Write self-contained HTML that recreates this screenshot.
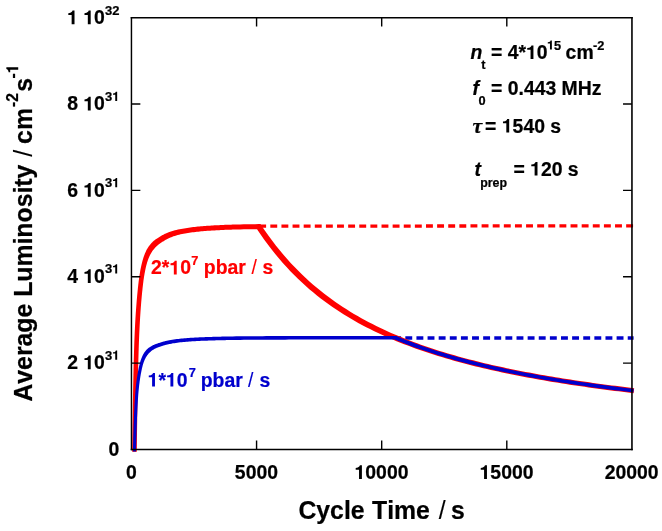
<!DOCTYPE html>
<html lang="en"><head><meta charset="utf-8"><title>Average Luminosity vs Cycle Time</title>
<style>
html,body{margin:0;padding:0;background:#fff;}
body{width:662px;height:531px;overflow:hidden;}
svg{display:block;will-change:transform;}
text{font-family:"Liberation Sans", sans-serif;font-weight:bold;fill:#000;font-kerning:none;stroke:#000;stroke-width:0.22px;stroke-linejoin:round;}
.tk{font-size:19.4px;}
.sup{font-size:13.0px;}
.an{font-size:19.4px;}
.ans{font-size:12.8px;}
.ttl{font-size:24.8px;}
.ttls{font-size:15.7px;}
.it{font-style:italic;}
</style></head><body>
<svg width="662" height="531" viewBox="0 0 662 531">
<rect x="0" y="0" width="662" height="531" fill="#fff"/>
<path d="M259.2 226.20 L633.6 225.80" stroke="#ff0000" stroke-width="3.3" stroke-dasharray="6.9 4.22" fill="none"/>
<path d="M394.2 337.98 H633.6" stroke="#0000cd" stroke-width="3.7" stroke-dasharray="6.9 4.22" fill="none"/>
<path d="M132.17 451.67 L132.20 449.27 L132.30 441.23 L132.40 433.60 L132.50 426.38 L132.60 419.51 L132.70 412.99 L132.80 406.78 L132.90 400.87 L133.00 395.25 L133.10 389.90 L133.20 384.80 L133.30 379.94 L133.40 375.32 L133.50 370.91 L133.60 366.73 L133.70 362.75 L133.80 358.96 L133.90 355.37 L134.00 351.97 L134.10 348.75 L134.20 345.70 L134.30 342.83 L134.40 340.12 L134.50 337.58 L134.60 335.18 L134.70 332.88 L134.80 330.68 L134.90 328.57 L135.00 326.55 L135.10 324.61 L135.20 322.75 L135.30 320.95 L135.40 319.22 L135.50 317.55 L135.60 315.94 L135.70 314.37 L135.80 312.86 L135.90 311.40 L136.00 309.97 L136.10 308.59 L136.20 307.24 L136.30 305.93 L136.40 304.65 L136.49 303.39 L136.59 302.17 L136.69 300.97 L136.79 299.79 L136.89 298.64 L136.99 297.51 L137.09 296.39 L137.19 295.30 L137.29 294.23 L137.39 293.18 L137.49 292.15 L137.59 291.14 L137.69 290.15 L137.79 289.18 L137.89 288.23 L137.99 287.30 L138.09 286.38 L138.19 285.49 L138.29 284.61 L138.39 283.76 L138.49 282.92 L138.59 282.09 L138.68 281.29 L138.78 280.51 L138.88 279.74 L138.98 278.99 L139.08 278.25 L139.18 277.54 L139.28 276.84 L139.38 276.16 L139.47 275.48 L139.85 273.14 L140.22 271.02 L140.59 269.05 L140.96 267.21 L141.33 265.50 L141.69 263.90 L142.06 262.40 L142.43 261.00 L142.80 259.69 L143.17 258.46 L143.54 257.30 L143.91 256.22 L144.28 255.20 L144.65 254.24 L145.02 253.32 L145.40 252.45 L145.77 251.63 L146.15 250.84 L146.53 250.09 L146.92 249.37 L147.30 248.69 L147.69 248.03 L148.08 247.41 L148.48 246.80 L148.87 246.22 L149.27 245.67 L149.67 245.14 L150.08 244.63 L150.48 244.14 L150.89 243.67 L151.30 243.22 L151.70 242.79 L152.11 242.38 L152.52 241.98 L152.93 241.59 L153.34 241.22 L153.76 240.86 L154.18 240.51 L154.60 240.17 L155.02 239.85 L155.43 239.55 L155.84 239.25 L156.25 238.97 L156.66 238.69 L157.06 238.43 L157.46 238.17 L157.85 237.91 L158.25 237.66 L158.63 237.42 L159.02 237.18 L159.40 236.94 L159.79 236.70 L160.17 236.47 L160.56 236.23 L160.95 236.00 L161.34 235.77 L161.74 235.54 L162.13 235.32 L162.53 235.10 L162.93 234.88 L163.33 234.67 L163.73 234.46 L164.13 234.26 L164.53 234.06 L164.94 233.87 L165.35 233.68 L165.75 233.50 L166.16 233.32 L166.57 233.15 L166.98 232.98 L167.38 232.82 L167.78 232.67 L168.17 232.52 L168.60 232.37 L170.14 231.80 L171.72 231.28 L173.30 230.80 L174.87 230.37 L176.43 229.98 L177.98 229.61 L179.52 229.28 L181.06 228.97 L182.60 228.68 L184.13 228.41 L185.66 228.16 L187.19 227.92 L188.71 227.70 L190.23 227.49 L191.75 227.29 L193.27 227.11 L194.79 226.93 L196.31 226.77 L197.82 226.61 L199.34 226.46 L200.85 226.33 L202.37 226.20 L203.88 226.07 L205.39 225.96 L206.90 225.85 L208.41 225.74 L209.92 225.64 L211.43 225.55 L212.93 225.46 L214.44 225.37 L215.95 225.29 L217.46 225.21 L218.96 225.13 L220.47 225.06 L221.98 224.99 L223.48 224.93 L224.99 224.87 L226.50 224.81 L228.00 224.76 L229.51 224.71 L231.01 224.66 L232.52 224.62 L236.28 224.51 L240.04 224.42 L243.79 224.34 L247.55 224.27 L251.31 224.21 L255.06 224.15 L258.69 224.11 L258.75 229.11 L255.13 229.15 L251.39 229.21 L247.64 229.27 L243.90 229.34 L240.15 229.42 L236.41 229.52 L232.66 229.62 L231.17 229.66 L229.67 229.71 L228.18 229.76 L226.68 229.81 L225.19 229.87 L223.69 229.93 L222.20 230.00 L220.70 230.06 L219.21 230.14 L217.71 230.21 L216.22 230.29 L214.73 230.38 L213.23 230.46 L211.74 230.55 L210.25 230.65 L208.75 230.75 L207.26 230.86 L205.77 230.97 L204.28 231.08 L202.79 231.21 L201.30 231.34 L199.82 231.48 L198.33 231.63 L196.85 231.78 L195.36 231.95 L193.88 232.13 L192.40 232.32 L190.91 232.51 L189.44 232.73 L187.96 232.95 L186.48 233.19 L185.01 233.45 L183.54 233.72 L182.08 234.01 L180.62 234.33 L179.16 234.67 L177.71 235.04 L176.27 235.44 L174.84 235.88 L173.41 236.36 L171.99 236.88 L170.53 237.45 L170.21 237.59 L169.85 237.74 L169.50 237.90 L169.15 238.05 L168.80 238.21 L168.46 238.38 L168.12 238.55 L167.78 238.72 L167.44 238.90 L167.09 239.09 L166.75 239.27 L166.40 239.47 L166.05 239.66 L165.70 239.86 L165.35 240.07 L164.99 240.28 L164.64 240.49 L164.28 240.71 L163.92 240.93 L163.56 241.15 L163.20 241.38 L162.84 241.60 L162.47 241.84 L162.11 242.07 L161.74 242.30 L161.38 242.54 L161.02 242.78 L160.66 243.01 L160.31 243.25 L159.96 243.50 L159.62 243.74 L159.28 243.99 L158.94 244.25 L158.60 244.51 L158.27 244.78 L157.94 245.05 L157.61 245.34 L157.27 245.63 L156.93 245.94 L156.59 246.26 L156.25 246.58 L155.91 246.92 L155.57 247.27 L155.23 247.62 L154.89 248.00 L154.54 248.38 L154.19 248.78 L153.84 249.20 L153.49 249.64 L153.14 250.10 L152.78 250.58 L152.42 251.09 L152.06 251.62 L151.70 252.18 L151.33 252.77 L150.96 253.40 L150.59 254.06 L150.22 254.76 L149.84 255.50 L149.46 256.29 L149.09 257.14 L148.71 258.04 L148.33 259.00 L147.94 260.03 L147.56 261.15 L147.18 262.37 L146.80 263.67 L146.42 265.08 L146.03 266.60 L145.65 268.23 L145.27 269.99 L144.89 271.89 L144.51 273.94 L144.13 276.22 L144.03 276.86 L143.93 277.52 L143.83 278.20 L143.73 278.90 L143.63 279.62 L143.52 280.35 L143.42 281.11 L143.32 281.88 L143.22 282.67 L143.12 283.48 L143.02 284.31 L142.92 285.15 L142.82 286.02 L142.72 286.90 L142.62 287.80 L142.52 288.72 L142.42 289.67 L142.32 290.63 L142.22 291.61 L142.11 292.61 L142.01 293.63 L141.91 294.67 L141.81 295.73 L141.71 296.81 L141.61 297.92 L141.51 299.04 L141.41 300.19 L141.31 301.36 L141.21 302.55 L141.11 303.77 L141.01 305.01 L140.91 306.28 L140.81 307.59 L140.71 308.93 L140.61 310.30 L140.51 311.72 L140.41 313.17 L140.31 314.68 L140.21 316.23 L140.11 317.83 L140.01 319.49 L139.91 321.21 L139.81 323.00 L139.71 324.86 L139.61 326.79 L139.51 328.80 L139.40 330.89 L139.30 333.08 L139.20 335.37 L139.10 337.77 L139.00 340.30 L138.90 343.00 L138.80 345.86 L138.70 348.90 L138.60 352.11 L138.50 355.51 L138.40 359.09 L138.30 362.86 L138.20 366.84 L138.10 371.02 L138.00 375.42 L137.90 380.04 L137.80 384.89 L137.70 389.99 L137.60 395.34 L137.50 400.95 L137.40 406.86 L137.30 413.06 L137.20 419.58 L137.10 426.44 L137.00 433.67 L136.90 441.28 L136.80 449.33 L136.77 451.73Z M261.07 225.02 L264.81 230.55 L268.55 235.81 L272.28 240.85 L276.01 245.68 L279.73 250.32 L283.45 254.77 L287.17 259.03 L290.89 263.13 L294.61 267.07 L298.32 270.86 L302.04 274.51 L305.75 278.02 L309.46 281.40 L313.17 284.66 L316.88 287.80 L320.59 290.83 L324.29 293.75 L328.00 296.58 L331.71 299.30 L335.42 301.94 L339.13 304.49 L342.84 306.95 L346.55 309.34 L350.26 311.65 L353.97 313.89 L357.68 316.06 L361.39 318.16 L365.11 320.20 L368.82 322.18 L372.54 324.09 L376.25 325.96 L379.97 327.77 L383.69 329.52 L387.41 331.23 L391.13 332.89 L394.85 334.51 L398.57 336.08 L402.30 337.61 L406.02 339.09 L409.75 340.54 L413.48 341.95 L417.20 343.33 L420.93 344.67 L424.66 345.97 L428.39 347.25 L432.12 348.49 L435.85 349.70 L439.58 350.89 L443.32 352.04 L447.05 353.17 L450.78 354.27 L454.52 355.34 L458.25 356.40 L461.99 357.42 L465.72 358.43 L469.46 359.41 L473.20 360.37 L476.93 361.31 L480.67 362.23 L484.41 363.13 L488.15 364.02 L491.89 364.88 L495.63 365.73 L499.37 366.55 L503.11 367.37 L506.85 368.16 L510.59 368.94 L514.33 369.71 L518.07 370.46 L521.81 371.19 L525.56 371.91 L529.30 372.62 L533.04 373.31 L536.78 374.00 L540.53 374.67 L544.27 375.32 L548.01 375.97 L551.76 376.60 L555.50 377.22 L559.25 377.84 L562.99 378.44 L566.74 379.03 L570.48 379.61 L574.23 380.18 L577.97 380.74 L581.72 381.29 L585.46 381.83 L589.21 382.37 L592.95 382.89 L596.70 383.41 L600.44 383.91 L604.19 384.41 L607.94 384.91 L611.68 385.39 L615.43 385.87 L619.18 386.34 L622.92 386.80 L626.67 387.26 L630.42 387.70 L632.30 387.93 L634.18 388.15 L633.59 393.17 L631.70 392.95 L629.82 392.72 L626.07 392.28 L622.31 391.82 L618.55 391.36 L614.80 390.89 L611.04 390.41 L607.28 389.93 L603.53 389.44 L599.77 388.94 L596.01 388.43 L592.26 387.92 L588.50 387.39 L584.74 386.86 L580.98 386.32 L577.23 385.77 L573.47 385.21 L569.71 384.64 L565.95 384.06 L562.19 383.47 L558.43 382.87 L554.68 382.26 L550.92 381.64 L547.16 381.00 L543.40 380.36 L539.64 379.70 L535.88 379.04 L532.12 378.36 L528.36 377.66 L524.60 376.96 L520.84 376.24 L517.08 375.50 L513.31 374.75 L509.55 373.99 L505.79 373.21 L502.03 372.42 L498.26 371.61 L494.50 370.78 L490.74 369.94 L486.97 369.07 L483.21 368.19 L479.45 367.30 L475.68 366.38 L471.91 365.44 L468.15 364.48 L464.38 363.50 L460.62 362.49 L456.85 361.47 L453.08 360.42 L449.31 359.34 L445.54 358.24 L441.77 357.12 L438.00 355.96 L434.23 354.78 L430.46 353.57 L426.69 352.33 L422.91 351.06 L419.14 349.75 L415.36 348.41 L411.59 347.03 L407.81 345.62 L404.03 344.17 L400.26 342.68 L396.48 341.15 L392.70 339.58 L388.92 337.96 L385.13 336.29 L381.35 334.58 L377.57 332.81 L373.78 330.99 L370.00 329.12 L366.21 327.19 L362.42 325.20 L358.63 323.14 L354.84 321.02 L351.05 318.83 L347.26 316.57 L343.46 314.23 L339.67 311.82 L335.88 309.32 L332.08 306.73 L328.29 304.05 L324.49 301.28 L320.70 298.40 L316.90 295.43 L313.11 292.34 L309.31 289.13 L305.52 285.80 L301.73 282.35 L297.94 278.76 L294.15 275.03 L290.36 271.15 L286.57 267.12 L282.79 262.92 L279.01 258.55 L275.23 254.00 L271.45 249.25 L267.67 244.31 L263.90 239.16 L260.13 233.78 L256.37 228.19Z M258.72 226.61 L258.69 224.11 L260.44 224.08 L261.07 225.02Z M258.72 226.61 L258.75 229.11 L256.37 228.19Z" fill="#ff0000" stroke="none"/>
<path d="M132.90 451.46 L132.95 449.26 L133.05 445.24 L133.15 441.43 L133.25 437.81 L133.35 434.38 L133.45 431.11 L133.55 428.01 L133.65 425.05 L133.75 422.24 L133.85 419.56 L133.95 417.01 L134.05 414.58 L134.15 412.26 L134.25 410.06 L134.35 407.97 L134.45 405.97 L134.55 404.08 L134.65 402.28 L134.75 400.58 L134.85 398.96 L134.95 397.44 L135.05 395.99 L135.15 394.64 L135.25 393.36 L135.34 392.15 L135.44 391.00 L135.54 389.90 L135.64 388.84 L135.74 387.83 L135.84 386.85 L135.94 385.92 L136.04 385.01 L136.14 384.14 L136.24 383.30 L136.34 382.49 L136.44 381.71 L136.53 380.95 L136.63 380.21 L136.73 379.49 L136.83 378.80 L136.93 378.12 L137.03 377.46 L137.13 376.81 L137.23 376.19 L137.33 375.57 L137.43 374.97 L137.52 374.37 L137.62 373.79 L137.72 373.22 L137.82 372.66 L137.92 372.11 L138.02 371.58 L138.12 371.05 L138.22 370.53 L138.32 370.02 L138.41 369.52 L138.51 369.03 L138.61 368.55 L138.71 368.08 L138.81 367.62 L138.91 367.16 L139.01 366.72 L139.10 366.29 L139.20 365.86 L139.30 365.44 L139.40 365.04 L139.50 364.64 L139.59 364.24 L139.69 363.86 L139.79 363.49 L139.89 363.12 L139.99 362.76 L140.08 362.41 L140.18 362.05 L140.55 360.86 L140.91 359.77 L141.28 358.75 L141.65 357.80 L142.02 356.90 L142.39 356.07 L142.77 355.28 L143.15 354.54 L143.53 353.85 L143.92 353.19 L144.31 352.57 L144.70 352.00 L145.10 351.46 L145.50 350.95 L145.90 350.47 L146.31 350.02 L146.72 349.60 L147.13 349.19 L147.54 348.81 L147.96 348.45 L148.37 348.11 L148.78 347.79 L149.20 347.48 L149.61 347.18 L150.03 346.90 L150.44 346.64 L150.85 346.39 L151.26 346.15 L151.67 345.92 L152.08 345.70 L152.49 345.49 L152.90 345.29 L153.30 345.09 L153.70 344.91 L154.10 344.73 L154.50 344.55 L154.91 344.39 L155.31 344.23 L155.71 344.07 L156.11 343.92 L156.51 343.78 L156.90 343.64 L157.29 343.51 L157.68 343.38 L158.07 343.25 L158.46 343.12 L158.84 343.00 L159.23 342.88 L159.61 342.76 L159.99 342.64 L160.37 342.52 L160.75 342.41 L161.13 342.29 L161.51 342.18 L161.89 342.06 L162.27 341.95 L162.65 341.84 L163.04 341.73 L163.42 341.62 L163.81 341.52 L164.19 341.41 L164.58 341.31 L164.96 341.22 L165.35 341.12 L165.74 341.02 L166.13 340.93 L166.51 340.84 L166.90 340.76 L167.29 340.68 L167.68 340.59 L168.06 340.52 L168.44 340.44 L168.83 340.36 L169.22 340.29 L170.74 340.01 L172.27 339.75 L173.79 339.51 L175.32 339.29 L176.84 339.10 L178.36 338.92 L179.87 338.75 L181.39 338.59 L182.90 338.45 L184.41 338.31 L185.92 338.18 L187.43 338.06 L188.94 337.95 L190.45 337.85 L191.96 337.75 L193.47 337.66 L194.97 337.57 L196.48 337.49 L197.99 337.41 L199.49 337.33 L201.00 337.26 L202.50 337.20 L204.01 337.14 L205.51 337.08 L207.02 337.03 L208.52 336.97 L210.02 336.92 L211.53 336.88 L213.03 336.83 L214.53 336.79 L216.03 336.74 L217.54 336.70 L219.04 336.67 L220.54 336.63 L222.05 336.60 L223.55 336.57 L225.05 336.53 L226.55 336.51 L228.06 336.48 L229.56 336.45 L231.06 336.43 L232.57 336.41 L236.32 336.36 L240.07 336.31 L243.83 336.27 L247.58 336.24 L251.33 336.20 L255.09 336.18 L258.84 336.15 L262.59 336.13 L266.34 336.11 L270.10 336.09 L273.85 336.07 L277.60 336.06 L281.35 336.04 L285.10 336.03 L288.86 336.01 L292.61 336.00 L296.36 335.99 L300.11 335.98 L303.86 335.97 L307.62 335.96 L311.37 335.95 L315.12 335.95 L318.87 335.94 L322.62 335.93 L326.38 335.93 L330.13 335.93 L333.88 335.92 L337.63 335.92 L341.38 335.92 L345.13 335.91 L348.89 335.91 L352.64 335.91 L356.39 335.90 L360.14 335.90 L363.89 335.90 L367.64 335.90 L371.39 335.90 L375.15 335.89 L378.90 335.89 L382.65 335.89 L386.40 335.89 L390.15 335.89 L393.90 335.89 L395.30 335.89 L395.30 339.49 L393.91 339.49 L390.15 339.49 L386.40 339.49 L382.65 339.49 L378.90 339.49 L375.15 339.49 L371.40 339.50 L367.65 339.50 L363.89 339.50 L360.14 339.50 L356.39 339.50 L352.64 339.51 L348.89 339.51 L345.14 339.51 L341.39 339.52 L337.63 339.52 L333.88 339.52 L330.13 339.53 L326.38 339.53 L322.63 339.53 L318.88 339.54 L315.13 339.55 L311.38 339.55 L307.62 339.56 L303.87 339.57 L300.12 339.58 L296.37 339.59 L292.62 339.60 L288.87 339.61 L285.12 339.63 L281.37 339.64 L277.62 339.66 L273.87 339.67 L270.11 339.69 L266.36 339.71 L262.61 339.73 L258.86 339.75 L255.11 339.78 L251.36 339.80 L247.61 339.84 L243.86 339.87 L240.11 339.91 L236.36 339.96 L232.62 340.01 L231.12 340.03 L229.62 340.05 L228.12 340.08 L226.62 340.11 L225.12 340.14 L223.62 340.17 L222.13 340.20 L220.63 340.23 L219.13 340.27 L217.63 340.31 L216.13 340.35 L214.63 340.39 L213.14 340.43 L211.64 340.48 L210.14 340.52 L208.64 340.57 L207.14 340.63 L205.65 340.68 L204.15 340.74 L202.65 340.80 L201.16 340.87 L199.66 340.94 L198.17 341.01 L196.67 341.09 L195.18 341.17 L193.68 341.26 L192.19 341.35 L190.70 341.45 L189.20 341.56 L187.71 341.67 L186.22 341.79 L184.73 341.92 L183.24 342.05 L181.75 342.20 L180.27 342.36 L178.78 342.53 L177.30 342.71 L175.82 342.91 L174.34 343.13 L172.87 343.37 L171.39 343.63 L169.91 343.92 L169.55 343.99 L169.19 344.07 L168.82 344.15 L168.45 344.22 L168.09 344.31 L167.73 344.39 L167.37 344.48 L167.00 344.57 L166.64 344.66 L166.28 344.76 L165.91 344.85 L165.55 344.95 L165.18 345.05 L164.82 345.16 L164.45 345.26 L164.09 345.37 L163.72 345.48 L163.35 345.59 L162.99 345.70 L162.62 345.82 L162.25 345.93 L161.88 346.05 L161.51 346.16 L161.14 346.28 L160.77 346.40 L160.40 346.52 L160.03 346.64 L159.66 346.77 L159.30 346.89 L158.94 347.02 L158.58 347.15 L158.22 347.28 L157.86 347.42 L157.51 347.56 L157.16 347.70 L156.81 347.85 L156.46 348.01 L156.12 348.17 L155.76 348.34 L155.42 348.51 L155.07 348.69 L154.72 348.87 L154.38 349.06 L154.03 349.25 L153.69 349.45 L153.35 349.66 L153.01 349.87 L152.68 350.10 L152.34 350.33 L152.00 350.57 L151.67 350.82 L151.33 351.08 L150.99 351.35 L150.66 351.63 L150.32 351.92 L149.98 352.23 L149.64 352.55 L149.30 352.88 L148.96 353.24 L148.61 353.61 L148.26 354.01 L147.91 354.43 L147.55 354.88 L147.19 355.36 L146.83 355.88 L146.46 356.44 L146.09 357.06 L145.71 357.72 L145.34 358.44 L144.96 359.23 L144.58 360.07 L144.20 360.99 L143.81 361.98 L143.43 363.10 L143.32 363.39 L143.22 363.71 L143.12 364.05 L143.02 364.39 L142.92 364.74 L142.81 365.10 L142.71 365.47 L142.61 365.85 L142.51 366.24 L142.41 366.64 L142.30 367.05 L142.20 367.46 L142.10 367.89 L142.00 368.33 L141.90 368.77 L141.80 369.23 L141.69 369.69 L141.59 370.17 L141.49 370.66 L141.39 371.15 L141.29 371.66 L141.19 372.18 L141.09 372.70 L140.98 373.24 L140.88 373.79 L140.78 374.35 L140.68 374.92 L140.58 375.50 L140.48 376.09 L140.38 376.70 L140.28 377.31 L140.18 377.95 L140.08 378.59 L139.97 379.26 L139.87 379.94 L139.77 380.65 L139.67 381.37 L139.57 382.12 L139.47 382.89 L139.37 383.69 L139.27 384.51 L139.17 385.37 L139.06 386.26 L138.96 387.18 L138.86 388.14 L138.76 389.14 L138.66 390.19 L138.56 391.28 L138.46 392.42 L138.36 393.61 L138.26 394.87 L138.16 396.22 L138.06 397.65 L137.96 399.16 L137.86 400.76 L137.76 402.46 L137.65 404.25 L137.55 406.13 L137.45 408.12 L137.35 410.21 L137.25 412.40 L137.15 414.71 L137.05 417.13 L136.95 419.68 L136.85 422.35 L136.75 425.16 L136.65 428.11 L136.55 431.21 L136.45 434.47 L136.35 437.90 L136.25 441.51 L136.15 445.32 L136.05 449.34 L136.00 451.54Z M396.05 335.87 L399.79 337.43 L403.52 338.94 L407.26 340.41 L410.99 341.84 L414.72 343.24 L418.46 344.60 L422.19 345.92 L425.93 347.22 L429.67 348.48 L433.40 349.71 L437.14 350.91 L440.88 352.08 L444.62 353.22 L448.36 354.34 L452.09 355.43 L455.83 356.49 L459.57 357.53 L463.31 358.55 L467.05 359.55 L470.80 360.52 L474.54 361.47 L478.28 362.40 L482.02 363.32 L485.76 364.21 L489.51 365.08 L493.25 365.94 L496.99 366.78 L500.73 367.60 L504.48 368.40 L508.22 369.19 L511.97 369.96 L515.71 370.72 L519.45 371.47 L523.20 372.20 L526.94 372.91 L530.69 373.61 L534.43 374.30 L538.18 374.98 L541.92 375.64 L545.67 376.29 L549.42 376.93 L553.16 377.56 L556.91 378.18 L560.66 378.79 L564.40 379.38 L568.15 379.97 L571.89 380.55 L575.64 381.11 L579.39 381.67 L583.14 382.22 L586.88 382.76 L590.63 383.29 L594.38 383.81 L598.12 384.32 L601.87 384.82 L605.62 385.32 L609.37 385.81 L613.12 386.29 L616.86 386.76 L620.61 387.23 L624.36 387.69 L628.11 388.14 L631.86 388.59 L632.21 388.63 L633.80 388.82 L633.38 392.43 L631.79 392.24 L631.43 392.20 L627.68 391.75 L623.92 391.30 L620.17 390.84 L616.41 390.38 L612.66 389.90 L608.90 389.42 L605.15 388.93 L601.39 388.44 L597.64 387.93 L593.88 387.42 L590.12 386.90 L586.37 386.37 L582.61 385.83 L578.86 385.29 L575.10 384.73 L571.34 384.16 L567.59 383.59 L563.83 383.00 L560.07 382.41 L556.32 381.80 L552.56 381.18 L548.80 380.56 L545.05 379.92 L541.29 379.26 L537.53 378.60 L533.77 377.93 L530.02 377.24 L526.26 376.54 L522.50 375.82 L518.74 375.09 L514.98 374.35 L511.23 373.59 L507.47 372.82 L503.71 372.03 L499.95 371.23 L496.19 370.41 L492.43 369.57 L488.67 368.71 L484.91 367.84 L481.15 366.95 L477.39 366.04 L473.62 365.11 L469.86 364.16 L466.10 363.18 L462.34 362.19 L458.58 361.17 L454.81 360.13 L451.05 359.07 L447.28 357.98 L443.52 356.86 L439.76 355.72 L435.99 354.55 L432.22 353.35 L428.46 352.12 L424.69 350.86 L420.92 349.56 L417.16 348.24 L413.39 346.88 L409.62 345.48 L405.85 344.04 L402.08 342.57 L398.31 341.06 L394.55 339.50Z M395.30 337.69 L395.30 335.89 L396.08 335.89 L396.05 335.87Z M395.30 337.69 L395.30 339.49 L394.55 339.50Z" fill="#0000cd" stroke="none"/>
<g stroke="#000" stroke-width="1.4" fill="none" stroke-linecap="butt">
<path d="M131.45 16.93 V450.20" stroke-width="1.45"/>
<path d="M631.95 16.93 V450.20" stroke-width="1.6"/>
<path d="M130.73 17.65 H632.75" stroke-width="1.45"/>
<path d="M130.73 449.50 H632.75" stroke-width="1.4"/>
<path d="M256.57 449.50 v-8.90 M256.57 17.65 v8.90 M381.69 449.50 v-8.90 M381.69 17.65 v8.90 M506.80 449.50 v-8.90 M506.80 17.65 v8.90 M131.45 363.13 h8.90 M631.92 363.13 h-8.90 M131.45 276.76 h8.90 M631.92 276.76 h-8.90 M131.45 190.39 h8.90 M631.92 190.39 h-8.90 M131.45 104.02 h8.90 M631.92 104.02 h-8.90"/>
</g>
<path d="M0.232 0 L0.232 0.478 L0.060 0.478 L0.060 0.570 Q0.185 0.578 0.243 0.640 Q0.268 0.670 0.276 0.706 L0.380 0.706 L0.380 0 Z" transform="translate(67.14 24.20) scale(19.400 -19.400)" fill="#000"/>
<path d="M0.232 0 L0.232 0.478 L0.060 0.478 L0.060 0.570 Q0.185 0.578 0.243 0.640 Q0.268 0.670 0.276 0.706 L0.380 0.706 L0.380 0 Z" transform="translate(83.32 24.20) scale(19.400 -19.400)" fill="#000"/>
<text class="tk" x="94.11" y="24.20">0</text>
<text class="sup" x="105.00" y="14.60">32</text>
<text class="tk" x="67.14" y="110.48">8</text>
<path d="M0.232 0 L0.232 0.478 L0.060 0.478 L0.060 0.570 Q0.185 0.578 0.243 0.640 Q0.268 0.670 0.276 0.706 L0.380 0.706 L0.380 0 Z" transform="translate(83.32 110.48) scale(19.400 -19.400)" fill="#000"/>
<text class="tk" x="94.11" y="110.48">0</text>
<text class="sup" x="105.00" y="100.88">3</text>
<path d="M0.232 0 L0.232 0.478 L0.060 0.478 L0.060 0.570 Q0.185 0.578 0.243 0.640 Q0.268 0.670 0.276 0.706 L0.380 0.706 L0.380 0 Z" transform="translate(112.23 100.88) scale(13.000 -13.000)" fill="#000"/>
<text class="tk" x="67.14" y="196.76">6</text>
<path d="M0.232 0 L0.232 0.478 L0.060 0.478 L0.060 0.570 Q0.185 0.578 0.243 0.640 Q0.268 0.670 0.276 0.706 L0.380 0.706 L0.380 0 Z" transform="translate(83.32 196.76) scale(19.400 -19.400)" fill="#000"/>
<text class="tk" x="94.11" y="196.76">0</text>
<text class="sup" x="105.00" y="187.16">3</text>
<path d="M0.232 0 L0.232 0.478 L0.060 0.478 L0.060 0.570 Q0.185 0.578 0.243 0.640 Q0.268 0.670 0.276 0.706 L0.380 0.706 L0.380 0 Z" transform="translate(112.23 187.16) scale(13.000 -13.000)" fill="#000"/>
<text class="tk" x="67.14" y="283.04">4</text>
<path d="M0.232 0 L0.232 0.478 L0.060 0.478 L0.060 0.570 Q0.185 0.578 0.243 0.640 Q0.268 0.670 0.276 0.706 L0.380 0.706 L0.380 0 Z" transform="translate(83.32 283.04) scale(19.400 -19.400)" fill="#000"/>
<text class="tk" x="94.11" y="283.04">0</text>
<text class="sup" x="105.00" y="273.44">3</text>
<path d="M0.232 0 L0.232 0.478 L0.060 0.478 L0.060 0.570 Q0.185 0.578 0.243 0.640 Q0.268 0.670 0.276 0.706 L0.380 0.706 L0.380 0 Z" transform="translate(112.23 273.44) scale(13.000 -13.000)" fill="#000"/>
<text class="tk" x="67.14" y="369.32">2</text>
<path d="M0.232 0 L0.232 0.478 L0.060 0.478 L0.060 0.570 Q0.185 0.578 0.243 0.640 Q0.268 0.670 0.276 0.706 L0.380 0.706 L0.380 0 Z" transform="translate(83.32 369.32) scale(19.400 -19.400)" fill="#000"/>
<text class="tk" x="94.11" y="369.32">0</text>
<text class="sup" x="105.00" y="359.72">3</text>
<path d="M0.232 0 L0.232 0.478 L0.060 0.478 L0.060 0.570 Q0.185 0.578 0.243 0.640 Q0.268 0.670 0.276 0.706 L0.380 0.706 L0.380 0 Z" transform="translate(112.23 359.72) scale(13.000 -13.000)" fill="#000"/>
<text class="tk" x="108.41" y="455.90">0</text>
<text class="tk" x="126.01" y="479.00">0</text>
<text class="tk" x="234.87" y="479.00">5000</text>
<path d="M0.232 0 L0.232 0.478 L0.060 0.478 L0.060 0.570 Q0.185 0.578 0.243 0.640 Q0.268 0.670 0.276 0.706 L0.380 0.706 L0.380 0 Z" transform="translate(354.53 479.00) scale(19.400 -19.400)" fill="#000"/>
<text class="tk" x="365.32" y="479.00">0000</text>
<path d="M0.232 0 L0.232 0.478 L0.060 0.478 L0.060 0.570 Q0.185 0.578 0.243 0.640 Q0.268 0.670 0.276 0.706 L0.380 0.706 L0.380 0 Z" transform="translate(479.58 479.00) scale(19.400 -19.400)" fill="#000"/>
<text class="tk" x="490.37" y="479.00">5000</text>
<text class="tk" x="604.63" y="479.00">20000</text>
<g transform="translate(299.4 518.6) scale(1 1.04)">
<text class="ttl" x="-1.0" y="0">Cycle</text>
<text class="ttl" x="72.6" y="0">Time</text>
<text class="ttl" x="139.3" y="0" style="font-weight:normal;stroke-width:0.1px">/</text>
<text class="ttl" x="151.7" y="0">s</text>
</g>
<g transform="translate(31.7 0) rotate(-90) scale(1 1.07)">
<text class="ttl" x="-401.6" y="0">Average Luminosity</text>
<text class="ttl" x="-156.7" y="0" style="font-weight:normal;stroke-width:0.1px">/</text>
<text class="ttl" x="-143.9" y="0">cm</text>
<text class="ttls" x="-107.0" y="-12.6">-2</text>
<text class="ttl" x="-91.8" y="0">s</text>
<text class="ttls" x="-78.50" y="-12.60">-</text>
<path d="M0.232 0 L0.232 0.478 L0.060 0.478 L0.060 0.570 Q0.185 0.578 0.243 0.640 Q0.268 0.670 0.276 0.706 L0.380 0.706 L0.380 0 Z" transform="translate(-73.27 -12.60) scale(15.700 -15.700)" fill="#000"/>
</g>
<text class="an" x="470.5" y="59.1"><tspan class="it">n</tspan></text>
<text class="ans" x="481.2" y="69.3">t</text>
<text class="an" x="491.00" y="59.10">= 4*</text>
<path d="M0.232 0 L0.232 0.478 L0.060 0.478 L0.060 0.570 Q0.185 0.578 0.243 0.640 Q0.268 0.670 0.276 0.706 L0.380 0.706 L0.380 0 Z" transform="translate(526.06 59.10) scale(19.400 -19.400)" fill="#000"/>
<text class="an" x="536.85" y="59.10">0</text>
<path d="M0.232 0 L0.232 0.478 L0.060 0.478 L0.060 0.570 Q0.185 0.578 0.243 0.640 Q0.268 0.670 0.276 0.706 L0.380 0.706 L0.380 0 Z" transform="translate(547.00 49.60) scale(12.800 -12.800)" fill="#000"/>
<text class="ans" x="554.12" y="49.60">5</text>
<text class="an" x="565.6" y="59.1">cm</text>
<text class="ans" x="593.0" y="49.6">-2</text>
<text class="an" x="472.6" y="94.8"><tspan class="it">f</tspan></text>
<text class="ans" x="478.6" y="105.0">0</text>
<text class="an" x="491.0" y="94.8">= 0.443 MHz</text>
<text x="472.4" y="133.3" style="font-family:'Liberation Serif',serif;font-style:italic;font-weight:bold;font-size:22px">&#964;</text>
<text class="an" x="485.10" y="132.60">=</text>
<path d="M0.232 0 L0.232 0.478 L0.060 0.478 L0.060 0.570 Q0.185 0.578 0.243 0.640 Q0.268 0.670 0.276 0.706 L0.380 0.706 L0.380 0 Z" transform="translate(501.82 132.60) scale(19.400 -19.400)" fill="#000"/>
<text class="an" x="512.61" y="132.60">540 s</text>
<text class="an" x="474.4" y="175.6"><tspan class="it">t</tspan></text>
<text class="ans" x="480.2" y="186.5" style="font-size:12.4px">prep</text>
<text class="an" x="513.40" y="175.60">=</text>
<path d="M0.232 0 L0.232 0.478 L0.060 0.478 L0.060 0.570 Q0.185 0.578 0.243 0.640 Q0.268 0.670 0.276 0.706 L0.380 0.706 L0.380 0 Z" transform="translate(530.12 175.60) scale(19.400 -19.400)" fill="#000"/>
<text class="an" x="540.91" y="175.60">20 s</text>
<text class="an" x="151.00" y="274.40" style="fill:#ff0000;stroke:#ff0000;">2*</text>
<path d="M0.232 0 L0.232 0.478 L0.060 0.478 L0.060 0.570 Q0.185 0.578 0.243 0.640 Q0.268 0.670 0.276 0.706 L0.380 0.706 L0.380 0 Z" transform="translate(169.34 274.40) scale(19.400 -19.400)" fill="#ff0000"/>
<text class="an" x="180.13" y="274.40" style="fill:#ff0000;stroke:#ff0000;">0</text>
<text class="ans" x="191.30" y="264.60" style="fill:#ff0000;stroke:#ff0000;">7</text>
<text class="an" x="203.80" y="274.40" style="fill:#ff0000;stroke:#ff0000;">pbar</text>
<text class="an" x="251.4" y="274.4" style="font-weight:normal;fill:#ff0000;stroke:#ff0000;stroke-width:0.1px">/</text>
<text class="an" x="262.60" y="274.40" style="fill:#ff0000;stroke:#ff0000;">s</text>
<path d="M0.232 0 L0.232 0.478 L0.060 0.478 L0.060 0.570 Q0.185 0.578 0.243 0.640 Q0.268 0.670 0.276 0.706 L0.380 0.706 L0.380 0 Z" transform="translate(147.60 386.60) scale(19.400 -19.400)" fill="#0000cd"/>
<text class="an" x="158.39" y="386.60" style="fill:#0000cd;stroke:#0000cd;">*</text>
<path d="M0.232 0 L0.232 0.478 L0.060 0.478 L0.060 0.570 Q0.185 0.578 0.243 0.640 Q0.268 0.670 0.276 0.706 L0.380 0.706 L0.380 0 Z" transform="translate(165.94 386.60) scale(19.400 -19.400)" fill="#0000cd"/>
<text class="an" x="176.73" y="386.60" style="fill:#0000cd;stroke:#0000cd;">0</text>
<text class="ans" x="188.70" y="376.70" style="fill:#0000cd;stroke:#0000cd;">7</text>
<text class="an" x="200.70" y="386.60" style="fill:#0000cd;stroke:#0000cd;">pbar</text>
<text class="an" x="248.0" y="386.6" style="font-weight:normal;fill:#0000cd;stroke:#0000cd;stroke-width:0.1px">/</text>
<text class="an" x="259.50" y="386.60" style="fill:#0000cd;stroke:#0000cd;">s</text>
</svg></body></html>
